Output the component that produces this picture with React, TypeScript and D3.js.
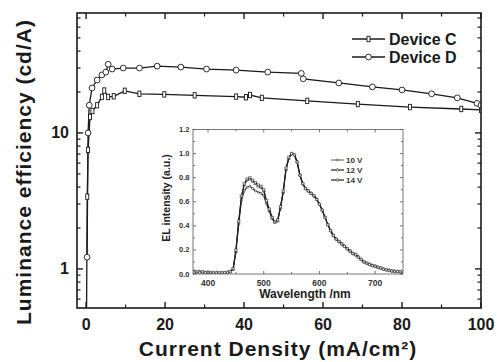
import React from "react";
import * as d3 from "d3";

// ---------- Main chart data ----------
const devCX = [0.1, 0.3, 0.5, 1.0, 1.6, 2.8, 4.0, 4.6, 5.6, 7.0, 9.8, 13.5, 19.8, 27.5, 38, 40.5, 41.5, 44.5, 56, 68.8, 82, 95, 100];
const devCY = [0.4, 3.4, 7.5, 13.1, 14.5, 16, 18.4, 20.5, 18.4, 18.6, 20.4, 19.4, 19.2, 18.9, 18.5, 18.3, 19.0, 18.1, 17.2, 16.3, 15.5, 15.0, 14.8];
const devDX = [0.25, 0.5, 0.8, 1.5, 2.8, 4.0, 5.0, 5.6, 6.6, 9.4, 13.5, 18, 24, 30.5, 38, 46, 54.5, 55, 64, 72.5, 80, 87.5, 94, 99, 100];
const devDY = [1.22, 10, 16, 21.4, 24.5, 26.7, 28, 32, 29.5, 30, 30, 31, 30.5, 29.5, 29, 28, 27.4, 25, 23.3, 21.8, 20.7, 19.4, 18.1, 16.5, 16];
const seriesNames = ["Device C", "Device D"];

const xMajorTicks = [0, 20, 40, 60, 80, 100];
const xMinorTicks = [10, 30, 50, 70, 90];
const yMajorTicks = [1, 10];
const yMinorTicks = [0.6, 0.7, 0.8, 0.9, 2, 3, 4, 5, 6, 7, 8, 9, 20, 30, 40, 50, 60, 70];

// ---------- Inset data ----------
const wavelengths = [375, 380, 385, 390, 395, 400, 405, 410, 415, 420, 425, 430, 435, 440, 445, 450, 455, 460, 465, 470, 475, 480, 485, 490, 495, 500, 505, 510, 515, 520, 525, 530, 535, 540, 545, 550, 555, 560, 565, 570, 575, 580, 585, 590, 595, 600, 605, 610, 615, 620, 625, 630, 635, 640, 645, 650, 655, 660, 665, 670, 675, 680, 685, 690, 695, 700, 705, 710, 715, 720, 725, 730, 735, 740, 745, 750];
const el10 = [0.025, 0.018, 0.02, 0.012, 0.015, 0.01, 0.012, 0.008, 0.01, 0.01, 0.008, 0.012, 0.01, 0.018, 0.04, 0.18, 0.41, 0.61, 0.69, 0.72, 0.73, 0.71, 0.69, 0.68, 0.67, 0.65, 0.58, 0.52, 0.46, 0.43, 0.44, 0.55, 0.68, 0.87, 0.96, 1.0, 0.99, 0.93, 0.82, 0.75, 0.71, 0.69, 0.67, 0.65, 0.62, 0.58, 0.53, 0.47, 0.41, 0.36, 0.32, 0.29, 0.27, 0.25, 0.23, 0.21, 0.19, 0.17, 0.16, 0.14, 0.12, 0.1, 0.09, 0.08, 0.07, 0.065, 0.055, 0.05, 0.04, 0.035, 0.03, 0.025, 0.022, 0.02, 0.018, 0.015];
const el12 = [0.02, 0.015, 0.02, 0.015, 0.01, 0.015, 0.01, 0.01, 0.012, 0.008, 0.01, 0.01, 0.012, 0.02, 0.04, 0.19, 0.43, 0.64, 0.74, 0.78, 0.79, 0.77, 0.75, 0.73, 0.72, 0.69, 0.6, 0.53, 0.47, 0.43, 0.44, 0.55, 0.68, 0.87, 0.96, 1.0, 0.99, 0.93, 0.82, 0.75, 0.71, 0.69, 0.67, 0.65, 0.62, 0.58, 0.53, 0.47, 0.41, 0.36, 0.32, 0.29, 0.27, 0.25, 0.23, 0.21, 0.19, 0.17, 0.16, 0.14, 0.12, 0.1, 0.09, 0.08, 0.07, 0.065, 0.055, 0.05, 0.04, 0.035, 0.03, 0.025, 0.022, 0.02, 0.018, 0.015];
const el14 = [0.015, 0.02, 0.012, 0.018, 0.012, 0.01, 0.015, 0.01, 0.008, 0.012, 0.01, 0.012, 0.015, 0.02, 0.045, 0.2, 0.44, 0.65, 0.75, 0.79, 0.8, 0.78, 0.76, 0.74, 0.73, 0.7, 0.61, 0.54, 0.47, 0.43, 0.45, 0.56, 0.69, 0.88, 0.97, 1.0, 0.99, 0.93, 0.82, 0.75, 0.71, 0.69, 0.67, 0.65, 0.62, 0.58, 0.53, 0.47, 0.41, 0.36, 0.32, 0.29, 0.27, 0.25, 0.23, 0.21, 0.19, 0.17, 0.16, 0.14, 0.12, 0.1, 0.09, 0.08, 0.07, 0.065, 0.055, 0.05, 0.04, 0.035, 0.03, 0.025, 0.022, 0.02, 0.018, 0.015];
const insetNames = ["10 V", "12 V", "14 V"];
const insetXMajor = [400, 500, 600, 700];
const insetXMinor = [450, 550, 650];
const insetYMajor = [0, 0.2, 0.4, 0.6, 0.8, 1.0, 1.2];
const insetYMinor = [0.1, 0.3, 0.5, 0.7, 0.9, 1.1];

const FONT = "'Liberation Sans', Arial, Helvetica, sans-serif";
const INK = "#1a1a1a";

export default function App() {
  const L = 77, R = 481, T = 13, B = 308;
  const x = d3.scaleLinear().domain([-2.3, 100]).range([L, R]);
  const y = d3.scaleLog().domain([0.516, 76.2]).range([B, T]);

  const IL = 193, IR = 403, IT = 129.5, IB = 274;
  const ix = d3.scaleLinear().domain([373, 750]).range([IL, IR]);
  const iy = d3.scaleLinear().domain([0, 1.2]).range([IB, IT]);

  const cPts = devCX.map((v, i) => [v, devCY[i]] as [number, number]);
  const dPts = devDX.map((v, i) => [v, devDY[i]] as [number, number]);
  const line = d3.line<[number, number]>().x(d => x(d[0])).y(d => y(d[1]));

  const specs = [el10, el12, el14].map(arr => wavelengths.map((w, i) => [w, arr[i]] as [number, number]));
  const iline = d3.line<[number, number]>().x(d => ix(d[0])).y(d => iy(d[1]));

  const triUp = d3.symbol().type(d3.symbolTriangle).size(4.5)() as string;

  const cMarker = (cx: number, cy: number, k: string | number) => (
    <rect key={k} x={cx - 1.5} y={cy - 2.7} width={3} height={5.4} fill="white" stroke={INK} strokeWidth={0.9} />
  );
  const dMarker = (cx: number, cy: number, k: string | number) => (
    <circle key={k} cx={cx} cy={cy} r={2.9} fill="white" stroke={INK} strokeWidth={0.9} />
  );
  const insetMarker = (s: number, cx: number, cy: number, k: string | number) => {
    if (s === 0) return <circle key={k} cx={cx} cy={cy} r={1.0} fill="white" stroke="#333" strokeWidth={0.6} />;
    return (
      <path key={k} d={triUp} transform={`translate(${cx},${cy}) rotate(${s === 2 ? 180 : 0})`} fill="white" stroke="#333" strokeWidth={0.6} />
    );
  };

  return (
    <svg width={497} height={362} style={{ position: "absolute", left: 0, top: 0, background: "white" }} fontFamily={FONT}>
      <defs>
        <clipPath id="mainClip"><rect x={L} y={T} width={R - L} height={B - T} /></clipPath>
        <clipPath id="insetClip"><rect x={IL} y={IT} width={IR - IL} height={IB - IT} /></clipPath>
      </defs>
      <rect width={497} height={362} fill="white" />

      {/* main data */}
      <g clipPath="url(#mainClip)">
        <path d={line(cPts) as string} fill="none" stroke={INK} strokeWidth={1.3} />
        <path d={line(dPts) as string} fill="none" stroke={INK} strokeWidth={1.3} />
        {cPts.map((p, i) => cMarker(x(p[0]), y(p[1]), "c" + i))}
        {dPts.map((p, i) => dMarker(x(p[0]), y(p[1]), "d" + i))}
      </g>

      {/* main frame */}
      <rect x={L} y={T} width={R - L} height={B - T} fill="none" stroke={INK} strokeWidth={1.6} />
      {xMajorTicks.map(v => (
        <g key={"xM" + v}>
          <line x1={x(v)} x2={x(v)} y1={B} y2={B - 6} stroke={INK} strokeWidth={1.4} />
          <line x1={x(v)} x2={x(v)} y1={T} y2={T + 6} stroke={INK} strokeWidth={1.4} />
          <text x={x(v)} y={330} textAnchor="middle" fontSize={16} fontWeight="bold" fill={INK}>{v}</text>
        </g>
      ))}
      {xMinorTicks.map(v => (
        <g key={"xm" + v}>
          <line x1={x(v)} x2={x(v)} y1={B} y2={B - 3.5} stroke={INK} strokeWidth={1.2} />
          <line x1={x(v)} x2={x(v)} y1={T} y2={T + 3.5} stroke={INK} strokeWidth={1.2} />
        </g>
      ))}
      {yMajorTicks.map(v => (
        <g key={"yM" + v}>
          <line x1={L} x2={L + 6} y1={y(v)} y2={y(v)} stroke={INK} strokeWidth={1.4} />
          <line x1={R} x2={R - 6} y1={y(v)} y2={y(v)} stroke={INK} strokeWidth={1.4} />
          <text x={69} y={y(v)} textAnchor="end" dominantBaseline="central" fontSize={16} fontWeight="bold" fill={INK}>{v}</text>
        </g>
      ))}
      {yMinorTicks.map(v => (
        <g key={"ym" + v}>
          <line x1={L} x2={L + 3.5} y1={y(v)} y2={y(v)} stroke={INK} strokeWidth={1.2} />
          <line x1={R} x2={R - 3.5} y1={y(v)} y2={y(v)} stroke={INK} strokeWidth={1.2} />
        </g>
      ))}

      {/* axis titles */}
      <text x={278} y={356} textAnchor="middle" fontSize={21} fontWeight="bold" letterSpacing={1} fill={INK}>Current Density (mA/cm²)</text>
      <text transform="translate(23,172) rotate(-90)" textAnchor="middle" dominantBaseline="central" fontSize={21} fontWeight="bold" letterSpacing={1} fill={INK}>Luminance efficiency (cd/A)</text>

      {/* main legend */}
      {seriesNames.map((n, i) => {
        const ly = 39 + i * 18;
        return (
          <g key={n}>
            <line x1={352} x2={385} y1={ly} y2={ly} stroke={INK} strokeWidth={1.3} />
            {i === 0 ? cMarker(368.5, ly, "lc") : dMarker(368.5, ly, "ld")}
            <text x={389} y={ly} dominantBaseline="central" fontSize={16} fontWeight="bold" fill={INK}>{n}</text>
          </g>
        );
      })}

      {/* inset */}
      <rect x={IL} y={IT} width={IR - IL} height={IB - IT} fill="white" />
      <g clipPath="url(#insetClip)">
        {specs.map((s, si) => (
          <g key={"s" + si}>
            <path d={iline(s) as string} fill="none" stroke="#222" strokeWidth={1.1} />
            {s.map((p, i) => insetMarker(si, ix(p[0]), iy(p[1]), si + "-" + i))}
          </g>
        ))}
      </g>
      <rect x={IL} y={IT} width={IR - IL} height={IB - IT} fill="none" stroke="#777" strokeWidth={1} />
      {insetXMajor.map(v => (
        <g key={"ixM" + v}>
          <line x1={ix(v)} x2={ix(v)} y1={IB} y2={IB - 3} stroke="#555" strokeWidth={0.8} />
          <line x1={ix(v)} x2={ix(v)} y1={IT} y2={IT + 3} stroke="#555" strokeWidth={0.8} />
          <text x={ix(v)} y={286} textAnchor="middle" fontSize={8.5} fontWeight="bold" fill="#333">{v}</text>
        </g>
      ))}
      {insetXMinor.map(v => (
        <g key={"ixm" + v}>
          <line x1={ix(v)} x2={ix(v)} y1={IB} y2={IB - 2} stroke="#555" strokeWidth={0.8} />
          <line x1={ix(v)} x2={ix(v)} y1={IT} y2={IT + 2} stroke="#555" strokeWidth={0.8} />
        </g>
      ))}
      {insetYMajor.map(v => (
        <g key={"iyM" + v}>
          <line x1={IL} x2={IL + 3} y1={iy(v)} y2={iy(v)} stroke="#555" strokeWidth={0.8} />
          <line x1={IR} x2={IR - 3} y1={iy(v)} y2={iy(v)} stroke="#555" strokeWidth={0.8} />
          <text x={189.5} y={iy(v)} textAnchor="end" dominantBaseline="central" fontSize={7.5} fontWeight="bold" fill="#333">{v.toFixed(1)}</text>
        </g>
      ))}
      {insetYMinor.map(v => (
        <g key={"iym" + v}>
          <line x1={IL} x2={IL + 2} y1={iy(v)} y2={iy(v)} stroke="#555" strokeWidth={0.8} />
          <line x1={IR} x2={IR - 2} y1={iy(v)} y2={iy(v)} stroke="#555" strokeWidth={0.8} />
        </g>
      ))}
      <text x={305} y={298} textAnchor="middle" fontSize={12} fontWeight="bold" fill="#222">Wavelength /nm</text>
      <text transform="translate(166,198) rotate(-90)" textAnchor="middle" dominantBaseline="central" fontSize={10.5} fontWeight="bold" fill="#222">EL intensity (a.u.)</text>

      {insetNames.map((n, i) => {
        const ly = 160 + i * 10;
        return (
          <g key={n}>
            <line x1={331} x2={344} y1={ly} y2={ly} stroke="#333" strokeWidth={i === 0 ? 0.8 : 1.3} />
            {insetMarker(i, 337.5, ly, "lg" + i)}
            <text x={346} y={ly} dominantBaseline="central" fontSize={8} fontWeight="bold" fill="#333">{n}</text>
          </g>
        );
      })}
    </svg>
  );
}
